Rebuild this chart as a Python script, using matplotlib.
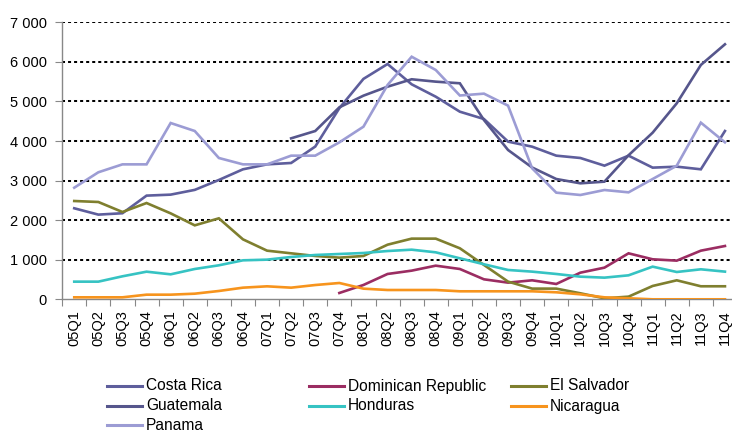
import numpy as np
import matplotlib
matplotlib.use("Agg")
import matplotlib.pyplot as plt
from matplotlib.lines import Line2D
from matplotlib.ticker import FuncFormatter, FixedLocator

plt.rcParams['font.family'] = ['Liberation Sans', 'DejaVu Sans']

quarters = ["05Q1", "05Q2", "05Q3", "05Q4", "06Q1", "06Q2", "06Q3", "06Q4",
            "07Q1", "07Q2", "07Q3", "07Q4", "08Q1", "08Q2", "08Q3", "08Q4",
            "09Q1", "09Q2", "09Q3", "09Q4", "10Q1", "10Q2", "10Q3", "10Q4",
            "11Q1", "11Q2", "11Q3", "11Q4"]
nan = np.nan

costa_rica = [2300, 2140, 2175, 2620, 2645, 2765, 3015, 3285, 3410, 3445, 3860, 4830,
              5570, 5946, 5433, 5120, 4741, 4556, 3984, 3857, 3630, 3571, 3377, 3630,
              3327, 3352, 3285, 4253]
dominican_republic = [nan] * 11 + [160, 362, 640, 724, 850, 766, 505, 421, 480, 387,
                                    673, 800, 1162, 1011, 977, 1229, 1347]
el_salvador = [2484, 2459, 2206, 2433, 2172, 1869, 2046, 1515, 1229, 1162, 1095, 1053,
               1095, 1380, 1533, 1533, 1289, 868, 447, 270, 270, 152, 25, 67, 337,
               480, 329, 329]
guatemala = [nan] * 9 + [4068, 4253, 4851, 5146, 5373, 5560, 5500, 5459, 4531, 3773,
                         3330, 3040, 2931, 2973, 3640, 4211, 4953, 5922, 6444]
honduras = [446, 446, 581, 698, 631, 766, 859, 985, 1002, 1069, 1120, 1145, 1170, 1220,
            1254, 1187, 1036, 885, 741, 699, 640, 572, 547, 606, 825, 690, 758, 699]
nicaragua = [50, 50, 50, 117, 117, 142, 210, 294, 328, 294, 361, 412, 269, 235, 235,
             235, 202, 202, 202, 202, 177, 126, 50, 25, 0, 0, 0, 0]
panama = [2820, 3210, 3410, 3410, 4455, 4253, 3571, 3410, 3410, 3630, 3630, 3966,
          4362, 5416, 6130, 5795, 5150, 5197, 4894, 3310, 2695, 2636, 2762, 2703,
          3040, 3377, 4464, 3967]

series_names = ["Costa Rica", "Dominican Republic", "El Salvador", "Guatemala",
                "Honduras", "Nicaragua", "Panama"]
series_values = [costa_rica, dominican_republic, el_salvador, guatemala,
                 honduras, nicaragua, panama]
colors = ["#5E5E9C", "#9B2D62", "#7F7F2F", "#56568C", "#36C3C3", "#F7941D", "#9C9CD4"]

W, H = 732, 432
fig = plt.figure(figsize=(W / 100, H / 100), dpi=100)
left_px, right_px, top_px, bottom_px = 62.2, 732, 22.3, 299.3
ax = fig.add_axes([left_px / W, 1 - bottom_px / H, (right_px - left_px) / W,
                   (bottom_px - top_px) / H])

x = np.arange(len(quarters))
for name, vals, c in zip(series_names, series_values, colors):
    ax.plot(x, vals, color=c, lw=1.9, solid_joinstyle='miter', label=name, zorder=3)

ax.set_ylim(0, 7000)
ax.set_xlim(-0.5, -0.5 + (right_px - left_px) / 24.1)

ax.set_yticks(np.arange(0, 7001, 1000))
ax.yaxis.set_major_formatter(FuncFormatter(lambda v, p: f"{int(v):,}".replace(",", " ")))
ax.tick_params(axis='y', length=5, color='#888888', direction='out', labelsize=10.5,
               pad=6, labelcolor='#000000')

ax.xaxis.set_major_locator(FixedLocator(np.arange(-0.5, len(quarters) + 0.6, 1)))
ax.xaxis.set_major_formatter(FuncFormatter(lambda v, p: ""))
ax.xaxis.set_minor_locator(FixedLocator(x))
ax.set_xticklabels(quarters, minor=True, rotation=90)
ax.tick_params(axis='x', which='major', length=5, color='#888888', direction='out')
ax.tick_params(axis='x', which='minor', length=0, labelsize=10.5, pad=8)

for yv in range(1000, 7001, 1000):
    ax.axhline(yv, color='black', lw=1.45, linestyle=(0, (1.5, 1.5)), zorder=1)

for s in ['top', 'right']:
    ax.spines[s].set_visible(False)
for s in ['left', 'bottom']:
    ax.spines[s].set_color('#888888')
    ax.spines[s].set_linewidth(1.0)

# legend, Excel-style fixed columns
col_x = [107, 309, 511]
row_y = [386, 406, 425]
for k, (name, c) in enumerate(zip(series_names, colors)):
    col, row = k % 3, k // 3
    x0 = col_x[col]
    y0 = row_y[row]
    fig.add_artist(Line2D([x0 / W, (x0 + 35) / W], [1 - y0 / H, 1 - y0 / H],
                          color=c, lw=2.2, transform=fig.transFigure))
    fig.text((x0 + 39) / W, 1 - y0 / H, name, fontsize=11.2, va='center', ha='left')

fig.savefig("out.png", dpi=100)
